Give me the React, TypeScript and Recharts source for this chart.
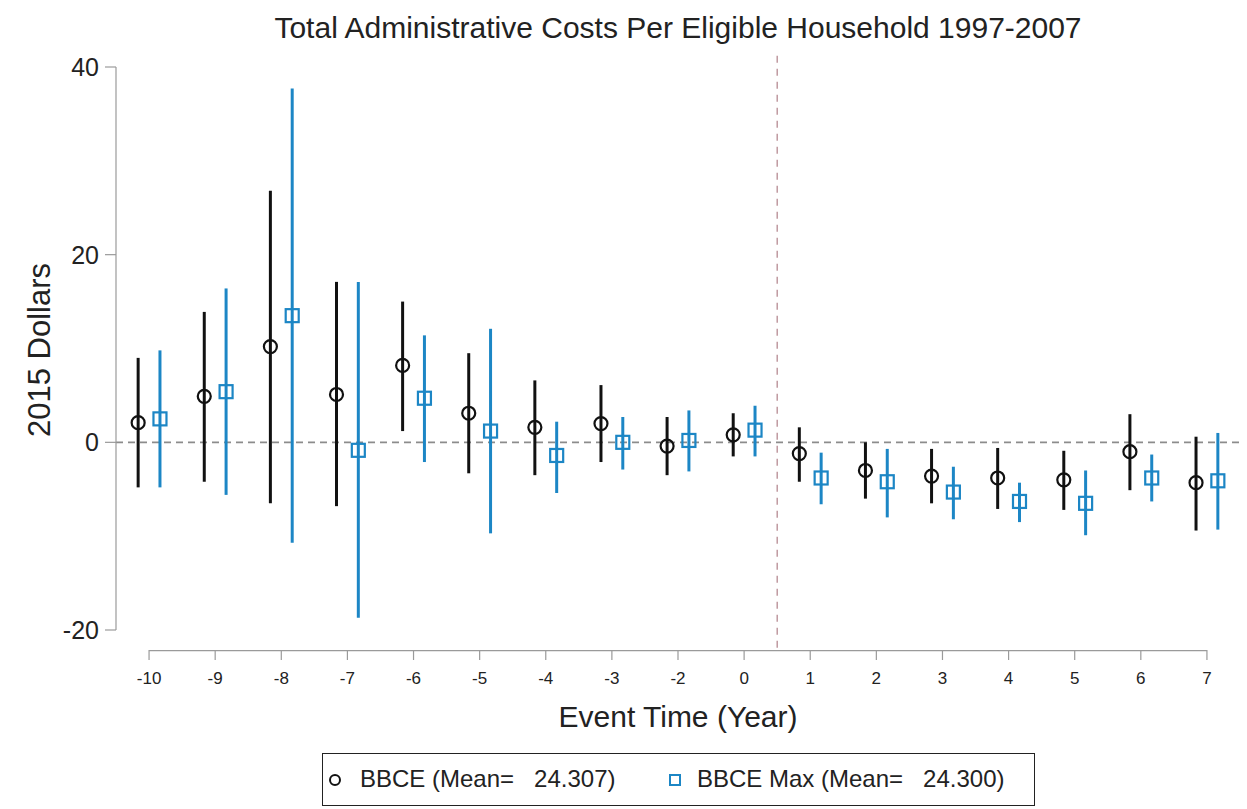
import React from "react";
import { ScatterChart, Scatter, XAxis, YAxis, ErrorBar, ReferenceLine } from "recharts";

// event-time categories (no -1: omitted reference year)
const categories = ["-10", "-9", "-8", "-7", "-6", "-5", "-4", "-3", "-2", "0", "1", "2", "3", "4", "5", "6", "7"];

// BBCE point estimates and 95% CI
const bbce = [2.1, 4.9, 10.2, 5.1, 8.2, 3.1, 1.6, 2.0, -0.4, 0.8, -1.2, -3.0, -3.6, -3.8, -4.0, -1.0, -4.3];
const bbceHi = [9.0, 13.9, 26.8, 17.1, 15.0, 9.5, 6.6, 6.1, 2.7, 3.1, 1.6, 0.0, -0.7, -0.6, -0.9, 3.0, 0.6];
const bbceLo = [-4.8, -4.2, -6.5, -6.8, 1.2, -3.3, -3.5, -2.1, -3.5, -1.5, -4.2, -6.0, -6.5, -7.1, -7.2, -5.1, -9.4];

// BBCE Max point estimates and 95% CI
const bbceMax = [2.5, 5.4, 13.5, -0.85, 4.7, 1.2, -1.4, 0.0, 0.2, 1.3, -3.8, -4.2, -5.3, -6.3, -6.5, -3.8, -4.1];
const bbceMaxHi = [9.8, 16.4, 37.7, 17.1, 11.4, 12.1, 2.2, 2.7, 3.4, 3.9, -1.1, -0.7, -2.6, -4.3, -3.0, -1.3, 1.0];
const bbceMaxLo = [-4.8, -5.6, -10.7, -18.7, -2.1, -9.7, -5.4, -2.9, -3.1, -1.5, -6.6, -8.0, -8.2, -8.5, -9.9, -6.3, -9.3];

const yTicks = [-20, 0, 20, 40];
const legendLabels = ["BBCE (Mean=   24.307)", "BBCE Max (Mean=   24.300)"];

const FONT = "'Liberation Sans', Arial, sans-serif";
const BLACK = "#111";
const BLUE = "#1c86c5";
const AXIS = "#9a9a9a";
const SHIFT = 0.165; // horizontal dodge of the two series around each tick

const build = (vals: number[], hi: number[], lo: number[], dx: number) =>
  vals.map((v, i) => ({ x: i + dx, y: v, err: [v - lo[i], hi[i] - v] }));

const bbceData = build(bbce, bbceHi, bbceLo, -SHIFT);
const maxData = build(bbceMax, bbceMaxHi, bbceMaxLo, SHIFT);

const CircleMark = (p: any) => (
  <circle cx={p.cx} cy={p.cy} r={6.5} fill="none" stroke={BLACK} strokeWidth={2.2} />
);
const SquareMark = (p: any) => (
  <rect x={p.cx - 6.5} y={p.cy - 6.5} width={13} height={13} fill="none" stroke={BLUE} strokeWidth={2.2} />
);

const XTick = (p: any) => (
  <g>
    <line x1={p.x} x2={p.x} y1={p.y + 20} y2={p.y + 30} stroke={AXIS} strokeWidth={1.2} />
    <text x={p.x} y={p.y + 54} textAnchor="middle" fontSize={17} fill="#222" fontFamily={FONT}>
      {categories[p.payload.value]}
    </text>
  </g>
);

export default function App() {
  return (
    <div style={{ position: "absolute", left: 0, top: 0, width: 1247, height: 809, background: "#fff", fontFamily: FONT }}>
      <div style={{ position: "absolute", left: 116, width: 1124, top: 11, lineHeight: "34px", textAlign: "center", fontSize: 30, color: "#222" }}>
        Total Administrative Costs Per Eligible Household 1997-2007
      </div>
      <div
        style={{
          position: "absolute", left: 40, top: 350, width: 300, marginLeft: -150, marginTop: -17,
          textAlign: "center", fontSize: 31, color: "#222", transform: "rotate(-90deg)", lineHeight: "34px",
        }}
      >
        2015 Dollars
      </div>
      <div style={{ position: "absolute", left: 116, width: 1124, top: 700, lineHeight: "34px", textAlign: "center", fontSize: 30, color: "#222" }}>
        Event Time (Year)
      </div>

      <ScatterChart width={1247} height={809} margin={{ top: 67, right: 7, bottom: 119, left: 56 }}>
        <XAxis
          type="number"
          dataKey="x"
          domain={[-0.5, 16.5]}
          ticks={categories.map((_, i) => i)}
          axisLine={false}
          tickLine={false}
          tickSize={0}
          tickMargin={0}
          height={60}
          tick={<XTick />}
          interval={0}
        />
        <YAxis
          type="number"
          dataKey="y"
          domain={[-20, 40]}
          ticks={yTicks}
          width={60}
          axisLine={{ stroke: AXIS, strokeWidth: 1.2 }}
          tickLine={{ stroke: AXIS, strokeWidth: 1.2 }}
          tickSize={11}
          tickMargin={6}
          tick={{ fontSize: 25, fill: "#222", fontFamily: FONT }}
        />
        <ReferenceLine y={0} stroke="#8c8c8c" strokeWidth={1.6} strokeDasharray="7 5" />
        <ReferenceLine
          segment={[{ x: 9.5, y: 41.2 }, { x: 9.5, y: -22.2 }]}
          ifOverflow="visible"
          stroke="#b08089"
          strokeWidth={1.2}
          strokeDasharray="7 6"
        />
        <ReferenceLine
          segment={[{ x: 0, y: -22.2 }, { x: 16, y: -22.2 }]}
          ifOverflow="visible"
          stroke={AXIS}
          strokeWidth={1.4}
        />
        <Scatter data={bbceData} shape={<CircleMark />} isAnimationActive={false}>
          <ErrorBar dataKey="err" direction="y" width={0} stroke={BLACK} strokeWidth={3} isAnimationActive={false} />
        </Scatter>
        <Scatter data={maxData} shape={<SquareMark />} isAnimationActive={false}>
          <ErrorBar dataKey="err" direction="y" width={0} stroke={BLUE} strokeWidth={3} isAnimationActive={false} />
        </Scatter>
      </ScatterChart>

      <div
        style={{
          position: "absolute", left: 322, top: 753, width: 711, height: 51, border: "1.5px solid #222",
          fontSize: 24, color: "#222", whiteSpace: "pre",
        }}
      >
        <svg width={16} height={16} style={{ position: "absolute", left: 4, top: 18 }}>
          <circle cx={8} cy={8} r={5} fill="none" stroke={BLACK} strokeWidth={2} />
        </svg>
        <span style={{ position: "absolute", left: 37, top: 11, lineHeight: "28px" }}>{legendLabels[0]}</span>
        <svg width={16} height={16} style={{ position: "absolute", left: 344, top: 18 }}>
          <rect x={3} y={3} width={10} height={10} fill="none" stroke={BLUE} strokeWidth={2} />
        </svg>
        <span style={{ position: "absolute", left: 374, top: 11, lineHeight: "28px" }}>{legendLabels[1]}</span>
      </div>
    </div>
  );
}
